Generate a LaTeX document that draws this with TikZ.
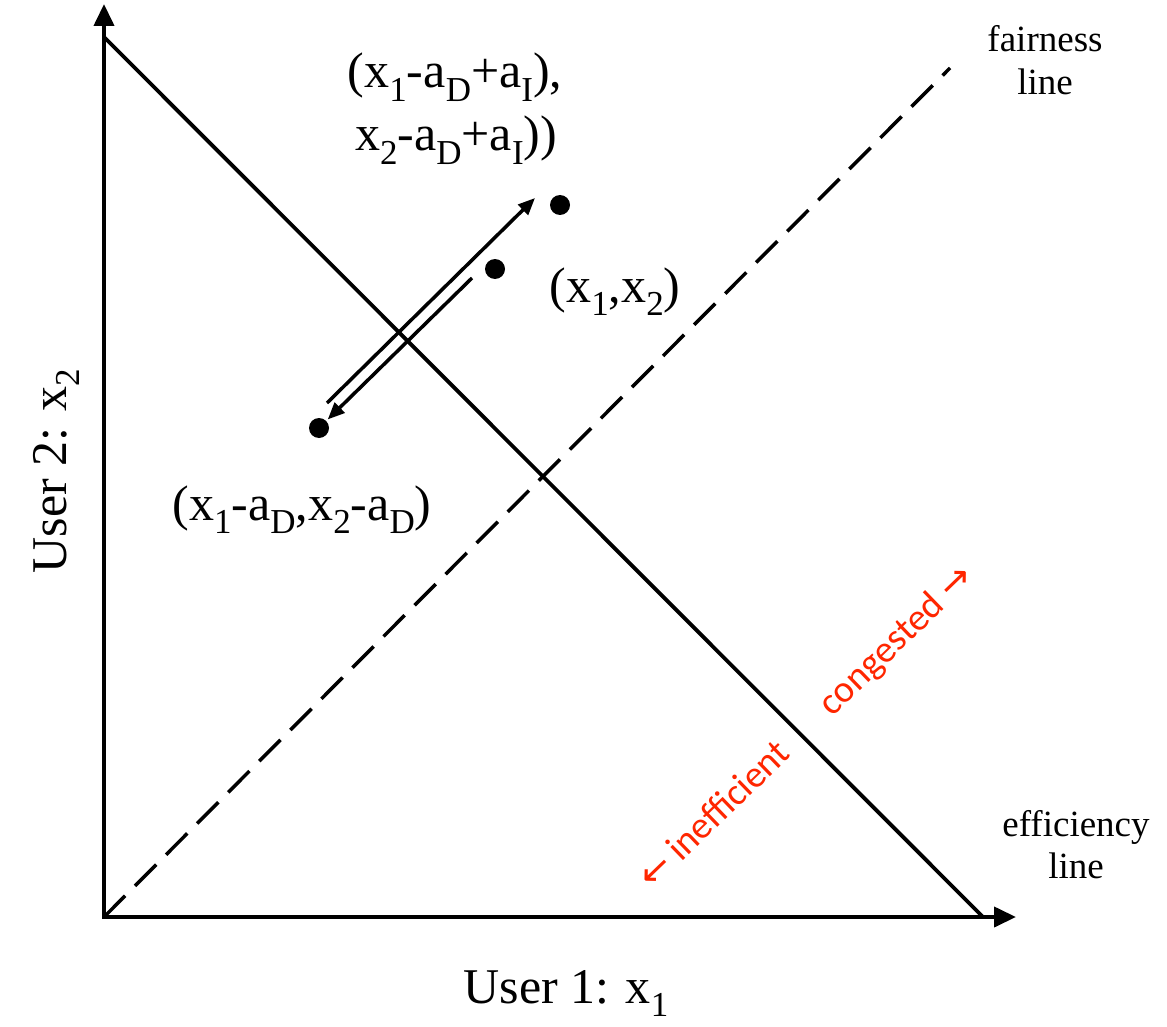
\documentclass[tikz,border=0pt]{standalone}
\usepackage{fontspec}
\setmainfont{Liberation Serif}
\newfontfamily\redfont{Carlito}
\newfontfamily\arrfont{DejaVu Sans}
\usetikzlibrary{arrows.meta}
\newcommand\sbs[1]{\raisebox{-0.27em}{\fontsize{35}{35}\selectfont #1}}
\definecolor{redlab}{RGB}{255,38,0}
\begin{document}
\begin{tikzpicture}[x=1pt,y=-1pt,
  axisline/.style={line width=4pt,-{Triangle[length=22pt,width=20pt]}},
  plainline/.style={line width=3.8pt},
  fairline/.style={line width=3.5pt,dash pattern=on 30pt off 14pt},
  movearrow/.style={line width=3.5pt,-{Triangle[length=17pt,width=14pt]}},
  dotnode/.style={circle,fill=black,inner sep=0pt,minimum size=20pt},
  biglabel/.style={inner sep=0pt,anchor=base,font=\fontsize{50}{60}\selectfont},
  smalllabel/.style={inner sep=0pt,anchor=base,font=\fontsize{37}{44}\selectfont},
  redlabel/.style={inner sep=0pt,text=redlab,font=\fontsize{38}{44}\redfont,rotate=44}]
\useasboundingbox (0,0) rectangle (1167,1027);
% axes
\coordinate (origin) at (104,917);
\coordinate (ytip) at (104,4);
\coordinate (xtip) at (1016,917);
\coordinate (effA) at (104,37);
\coordinate (effB) at (983,917);
\coordinate (fairEnd) at (950,68);
\draw[plainline] (effA) -- (effB);
\draw[fairline] (origin) -- (fairEnd);
\draw[axisline] ([yshift=2pt]origin) -- (ytip);
\draw[axisline] ([xshift=-2pt]origin) -- (xtip);
% dots
\node[dotnode] (dotI) at (560,205) {};
\node[dotnode] (dotX) at (495,269) {};
\node[dotnode] (dotD) at (319,428) {};
% move arrows
\coordinate (upS) at (327,403);
\coordinate (upE) at (535,198);
\coordinate (dnS) at (472,278);
\draw[movearrow] (upS) -- (upE);
\draw[movearrow,shorten >=2pt] (dnS) -- (dotD);
% labels
\node[biglabel] (incA) at (455,88) {(x\sbs{1}-a\sbs{D}+a\sbs{I}),};
\node[biglabel] (incB) at (456,151) {x\sbs{2}-a\sbs{D}+a\sbs{I}))};
\node[biglabel] (xlab) at (615,302) {(x\sbs{1},x\sbs{2})};
\node[biglabel] (declab) at (302,520) {(x\sbs{1}-a\sbs{D},x\sbs{2}-a\sbs{D})};
\node[biglabel] (user1) at (566,1003) {User 1: x\sbs{1}};
\node[biglabel,rotate=90] (user2) at (66,471) {User 2: x\sbs{2}};
\node[smalllabel] (fairA) at (1045,52) {fairness};
\node[smalllabel] (fairB) at (1045,95) {line};
\node[smalllabel] (effLA) at (1076,836) {efficiency};
\node[smalllabel] (effLB) at (1076,878) {line};
\node[redlabel] (cong) at (897,641) {congested {\arrfont →}};
\node[redlabel] (ineff) at (713,814) {{\arrfont ←} inefficient};
\end{tikzpicture}
\end{document}
